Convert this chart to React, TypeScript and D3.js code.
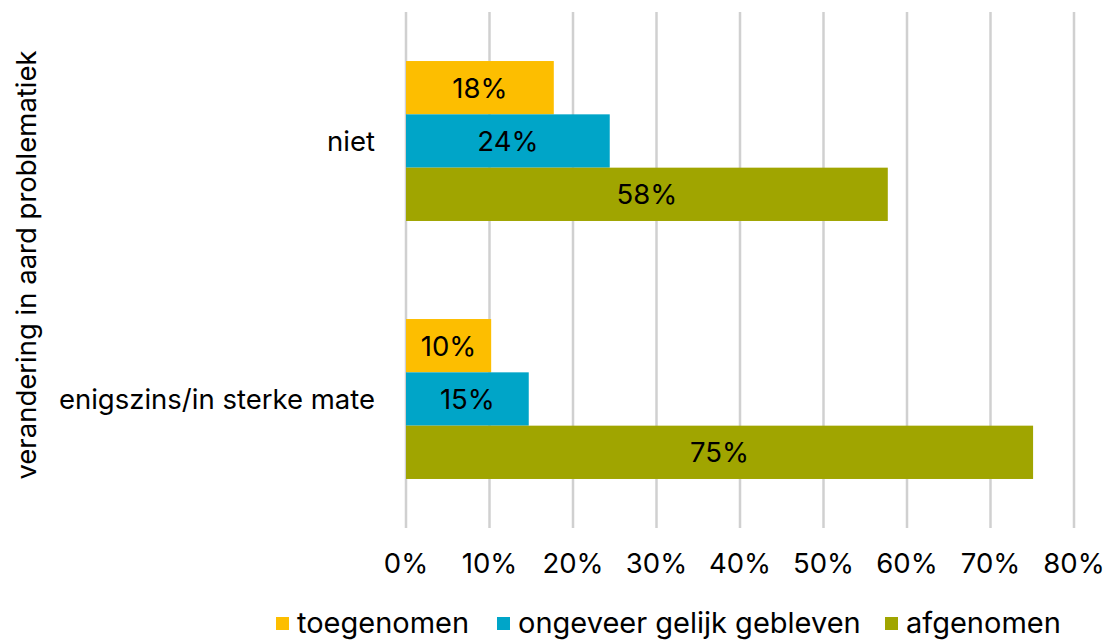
import React from "react";
import * as d3 from "d3";

const categories = ["niet", "enigszins/in sterke mate"];
const seriesNames = ["toegenomen", "ongeveer gelijk gebleven", "afgenomen"];
const toegenomen = [0.177, 0.102];
const gelijk = [0.244, 0.147];
const afgenomen = [0.577, 0.751];
const xTicks = [0, 0.1, 0.2, 0.3, 0.4, 0.5, 0.6, 0.7, 0.8];
const colors = ["#FDBE00", "#00A5C8", "#A0A500"];
const yTitle = "verandering in aard problematiek";

const W = 1109;
const H = 640;
const FONT = "Inter, 'Noto Sans', sans-serif";
const FS = 27.5;
const LFS = 29;

export default function App() {
  const series = [toegenomen, gelijk, afgenomen];
  const x = d3.scaleLinear().domain([0, 0.8]).range([406, 1074]);
  const y0 = d3.scaleBand<string>().domain(categories).range([12, 528]).paddingInner(0.38).paddingOuter(0.19);
  const y1 = d3.scaleBand<string>().domain(seriesNames).range([0, y0.bandwidth()]);
  const fmt = d3.format(".0%");

  const legendItems = [
    { name: seriesNames[0], sx: 276, tx: 297 },
    { name: seriesNames[1], sx: 497, tx: 518 },
    { name: seriesNames[2], sx: 885, tx: 906 },
  ];

  return (
    <svg width={W} height={H} style={{ position: "absolute", left: 0, top: 0, background: "#fff" }} fontFamily={FONT}>
      {xTicks.map((t) => (
        <g key={t}>
          <line x1={x(t)} x2={x(t)} y1={12} y2={528} stroke="#D0D0D0" strokeWidth={2.5} />
          <text x={x(t)} y={573} textAnchor="middle" fontSize={FS} fill="#000">{fmt(t)}</text>
        </g>
      ))}
      {categories.map((c, ci) => (
        <g key={c} transform={`translate(0,${y0(c)})`}>
          {series.map((s, si) => {
            const yy = y1(seriesNames[si])!;
            const bh = y1.bandwidth();
            return (
              <g key={si}>
                <rect x={x(0)} y={yy} width={x(s[ci]) - x(0)} height={bh} fill={colors[si]} />
                <text x={(x(0) + x(s[ci])) / 2} y={yy + bh / 2 + 10} textAnchor="middle" fontSize={FS} fill="#000">
                  {fmt(s[ci])}
                </text>
              </g>
            );
          })}
          <text x={375} y={y0.bandwidth() / 2 + 10} textAnchor="end" fontSize={FS} fill="#000">{c}</text>
        </g>
      ))}
      <text transform={`translate(36,265) rotate(-90)`} textAnchor="middle" fontSize={FS} fill="#000">{yTitle}</text>
      {legendItems.map((l, i) => (
        <g key={l.name}>
          <rect x={l.sx} y={617} width={13} height={13} fill={colors[i]} />
          <text x={l.tx} y={633} fontSize={LFS} fill="#000">{l.name}</text>
        </g>
      ))}
    </svg>
  );
}
